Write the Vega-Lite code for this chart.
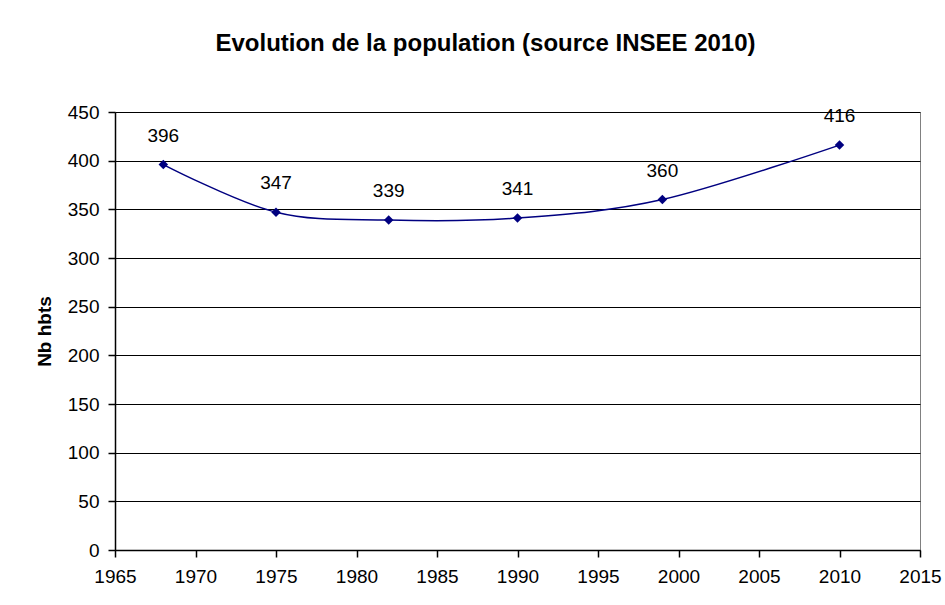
{
  "$schema": "https://vega.github.io/schema/vega-lite/v6.json",
  "autosize": {"type": "none"},
  "padding": {"left": 115, "top": 112, "right": 25, "bottom": 55},
  "width": 805,
  "height": 438,
  "background": "white",
  "title": {
    "text": "Evolution de la population (source INSEE 2010)",
    "anchor": "middle",
    "dx": -32,
    "offset": 47,
    "font": "Liberation Sans",
    "fontSize": 24,
    "fontWeight": "bold",
    "color": "#000"
  },
  "config": {
    "view": {"stroke": "#808080", "strokeWidth": 1},
    "font": "Liberation Sans",
    "axis": {
      "labelFont": "Liberation Sans",
      "labelFontSize": 19,
      "labelColor": "#000",
      "domainColor": "#000",
      "domainWidth": 1.5,
      "tickColor": "#000",
      "tickWidth": 1.5,
      "tickSize": 7,
      "titleFont": "Liberation Sans",
      "titleColor": "#000"
    }
  },
  "data": {
    "values": [
      {"year": 1968, "pop": 396},
      {"year": 1975, "pop": 347},
      {"year": 1982, "pop": 339},
      {"year": 1990, "pop": 341},
      {"year": 1999, "pop": 360},
      {"year": 2010, "pop": 416}
    ]
  },
  "encoding": {
    "x": {
      "field": "year",
      "type": "quantitative",
      "scale": {"domain": [1965, 2015], "nice": false, "zero": false},
      "axis": {
        "values": [1965, 1970, 1975, 1980, 1985, 1990, 1995, 2000, 2005, 2010, 2015],
        "format": "d",
        "grid": false,
        "title": null,
        "labelPadding": 10,
        "labelFlush": false,
        "labelOverlap": false
      }
    },
    "y": {
      "field": "pop",
      "type": "quantitative",
      "scale": {"domain": [0, 450], "nice": false},
      "axis": {
        "values": [0, 50, 100, 150, 200, 250, 300, 350, 400, 450],
        "grid": true,
        "gridColor": "#000",
        "gridWidth": 1,
        "title": "Nb hbts",
        "titleFontSize": 19,
        "titleFontWeight": "bold",
        "titlePadding": 13,
        "labelPadding": 9,
        "labelFlush": false,
        "labelOverlap": false
      }
    }
  },
  "layer": [
    {
      "mark": {"type": "line", "color": "#000080", "strokeWidth": 1.5, "interpolate": "cardinal"}
    },
    {
      "mark": {"type": "point", "shape": "diamond", "filled": true, "color": "#000080", "size": 90, "opacity": 1}
    },
    {
      "mark": {"type": "text", "fontSize": 19, "font": "Liberation Sans", "color": "#000", "dy": -29, "baseline": "middle"},
      "encoding": {"text": {"field": "pop", "type": "quantitative"}}
    }
  ]
}
